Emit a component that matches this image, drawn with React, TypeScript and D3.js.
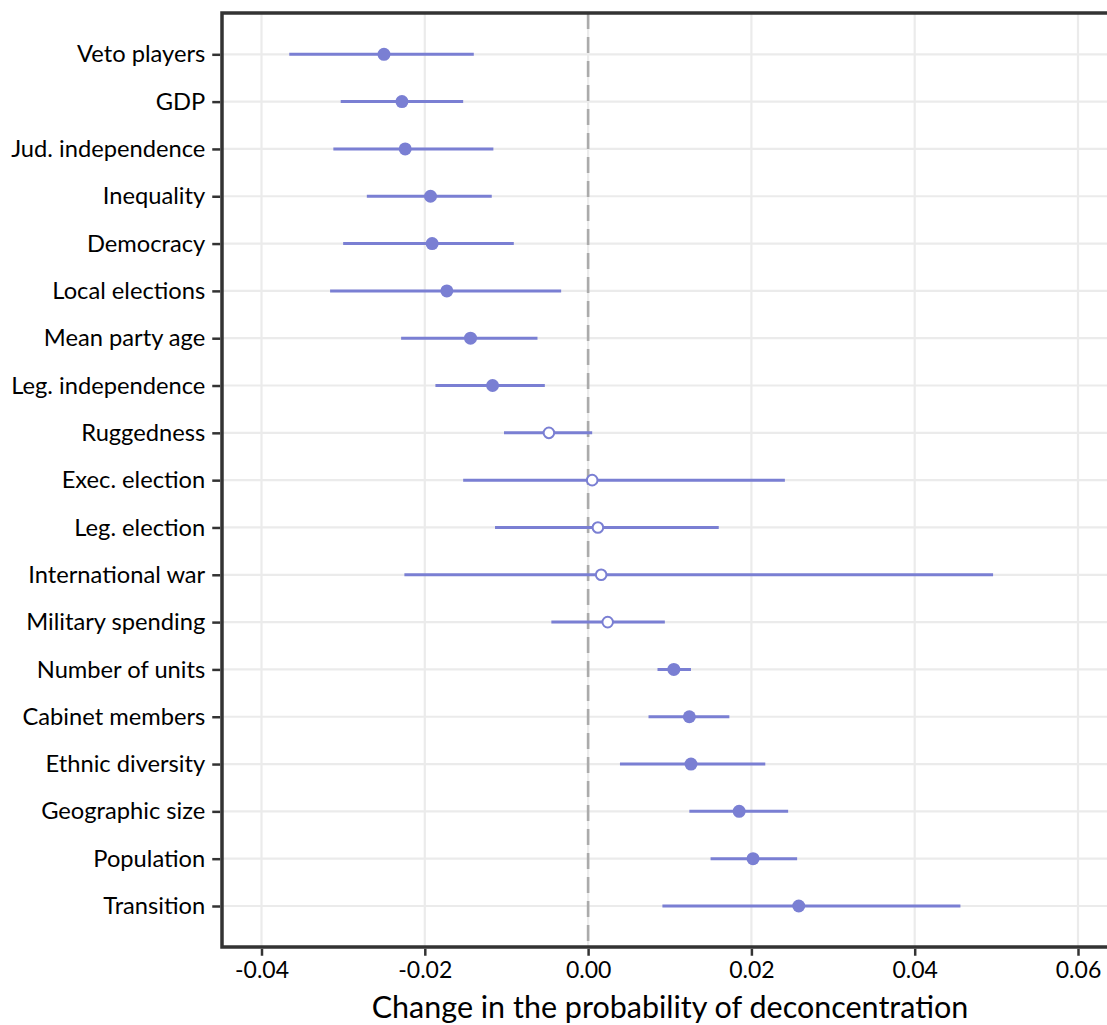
import React, { useRef, useEffect } from "react";
import * as d3 from "d3";

// variables, top to bottom
const labels = [
  "Veto players",
  "GDP",
  "Jud. independence",
  "Inequality",
  "Democracy",
  "Local elections",
  "Mean party age",
  "Leg. independence",
  "Ruggedness",
  "Exec. election",
  "Leg. election",
  "International war",
  "Military spending",
  "Number of units",
  "Cabinet members",
  "Ethnic diversity",
  "Geographic size",
  "Population",
  "Transition",
];
const estimates = [
  -0.025, -0.0228, -0.0224, -0.0193, -0.0191, -0.0173, -0.0144, -0.0117, -0.0048,
  0.0005, 0.0012, 0.0016, 0.0024, 0.0105, 0.0124, 0.0126, 0.0185, 0.0202, 0.0258,
];
const lower = [
  -0.0366, -0.0303, -0.0312, -0.0271, -0.03, -0.0316, -0.0229, -0.0187, -0.0103,
  -0.0153, -0.0114, -0.0225, -0.0045, 0.0085, 0.0074, 0.0039, 0.0124, 0.015, 0.0091,
];
const upper = [
  -0.014, -0.0153, -0.0116, -0.0118, -0.0091, -0.0033, -0.0062, -0.0053, 0.0005,
  0.0241, 0.016, 0.0496, 0.0094, 0.0126, 0.0173, 0.0217, 0.0245, 0.0256, 0.0456,
];
// significant -> filled dot, otherwise hollow
const significant = [
  true, true, true, true, true, true, true, true, false,
  false, false, false, false, true, true, true, true, true, true,
];
const xTicks = [-0.04, -0.02, 0, 0.02, 0.04, 0.06];

const W = 1107;
const H = 1025;
const COLOR = "#7a7fd3";
const FONT = "Lato, 'Open Sans', sans-serif";

const DotWhisker = () => {
  const svgRef = useRef(null);

  useEffect(() => {
    const svg = d3.select(svgRef.current);
    svg.selectAll("*").remove();

    const panel = { left: 222, right: 1120, top: 13, bottom: 947 };

    const x = d3.scaleLinear().domain([-0.04, 0.06]).range([261.5, 1078]);
    const y = d3.scalePoint().domain(labels).range([54.3, 906]);

    const data = labels.map((l, i) => ({
      label: l,
      est: estimates[i],
      lo: lower[i],
      hi: upper[i],
      sig: significant[i],
    }));

    // grid
    svg
      .append("g")
      .selectAll("line")
      .data(xTicks)
      .join("line")
      .attr("x1", (d) => x(d))
      .attr("x2", (d) => x(d))
      .attr("y1", panel.top)
      .attr("y2", panel.bottom)
      .attr("stroke", "#ebebeb")
      .attr("stroke-width", 2.2);

    svg
      .append("g")
      .selectAll("line")
      .data(labels)
      .join("line")
      .attr("x1", panel.left)
      .attr("x2", panel.right)
      .attr("y1", (d) => y(d))
      .attr("y2", (d) => y(d))
      .attr("stroke", "#ebebeb")
      .attr("stroke-width", 2.2);

    // zero reference
    svg
      .append("line")
      .attr("x1", x(0))
      .attr("x2", x(0))
      .attr("y1", panel.top)
      .attr("y2", panel.bottom)
      .attr("stroke", "#ababab")
      .attr("stroke-width", 2.6)
      .attr("stroke-dasharray", "16,8");

    // intervals
    svg
      .append("g")
      .selectAll("line")
      .data(data)
      .join("line")
      .attr("x1", (d) => x(d.lo))
      .attr("x2", (d) => x(d.hi))
      .attr("y1", (d) => y(d.label))
      .attr("y2", (d) => y(d.label))
      .attr("stroke", COLOR)
      .attr("stroke-width", 3);

    // point estimates
    svg
      .append("g")
      .selectAll("circle")
      .data(data)
      .join("circle")
      .attr("cx", (d) => x(d.est))
      .attr("cy", (d) => y(d.label))
      .attr("r", (d) => (d.sig ? 6.5 : 5.3))
      .attr("fill", (d) => (d.sig ? COLOR : "#ffffff"))
      .attr("stroke", COLOR)
      .attr("stroke-width", (d) => (d.sig ? 0 : 2));

    // panel border
    svg
      .append("rect")
      .attr("x", panel.left)
      .attr("y", panel.top)
      .attr("width", panel.right - panel.left)
      .attr("height", panel.bottom - panel.top)
      .attr("fill", "none")
      .attr("stroke", "#333333")
      .attr("stroke-width", 3.5);

    // y axis
    const yAxis = svg
      .append("g")
      .attr("transform", `translate(${panel.left - 1.75},0)`)
      .call(d3.axisLeft(y).tickSize(8).tickPadding(7));
    yAxis.select(".domain").remove();
    yAxis.selectAll("line").attr("stroke", "#333333").attr("stroke-width", 2.5);
    yAxis
      .selectAll("text")
      .attr("fill", "#000")
      .style("font-family", FONT)
      .style("font-size", "23.7px");

    // x axis
    const xAxis = svg
      .append("g")
      .attr("transform", `translate(0,${panel.bottom + 1.75})`)
      .call(
        d3
          .axisBottom(x)
          .tickValues(xTicks)
          .tickSize(7)
          .tickPadding(6)
          .tickFormat(d3.format(".2f"))
      );
    xAxis.select(".domain").remove();
    xAxis.selectAll("line").attr("stroke", "#333333").attr("stroke-width", 2.5);
    xAxis
      .selectAll("text")
      .attr("fill", "#000")
      .style("font-family", FONT)
      .style("font-size", "23px")
      .text((d) => d3.format(".2f")(d).replace("−", "-"));

    svg
      .append("text")
      .attr("x", 670)
      .attr("y", 1018)
      .attr("text-anchor", "middle")
      .style("font-family", FONT)
      .style("font-size", "30.5px")
      .attr("fill", "#000")
      .text("Change in the probability of deconcentration");
  }, []);

  return <svg ref={svgRef} width={W} height={H} style={{ display: "block" }}></svg>;
};

export default function App() {
  return (
    <div style={{ position: "absolute", left: 0, top: 0, background: "#fff" }}>
      <DotWhisker />
    </div>
  );
}
